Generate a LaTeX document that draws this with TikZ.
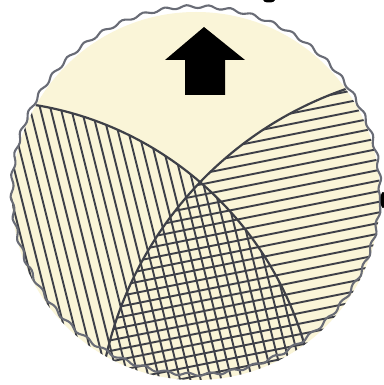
\documentclass[tikz,border=0pt]{standalone}
\usetikzlibrary{decorations.pathmorphing}
\definecolor{paper}{RGB}{250,245,216}
\definecolor{rim}{RGB}{105,108,118}
\definecolor{ink}{RGB}{62,64,72}
\tikzset{
  hatch/.style={draw=ink, line width=1.9pt},
  divide/.style={draw=ink, line width=2.2pt},
  wavyrim/.style={draw=rim, line width=2.1pt, decorate,
    decoration={snake, segment length=22pt, amplitude=1.5pt}}
}
\begin{document}
\begin{tikzpicture}[x=1pt,y=-1pt]
  \useasboundingbox[fill=white] (0,0) rectangle (383,385);
  % disc
  \fill[paper] (196,196) circle[radius=184pt];
  % left lens: steep hatch
  \begin{scope}
    \clip (196,196) circle[radius=184pt];
    \clip (-20,438) circle[radius=337.5pt];
    \foreach \k in {-30,...,30}
      \draw[hatch] ({196+\k*10.3-0.25*260},{196-260}) -- ({196+\k*10.3+0.25*260},{196+260});
  \end{scope}
  % right lens: shallow hatch
  \begin{scope}
    \clip (196,196) circle[radius=184pt];
    \clip (466,438) circle[radius=369pt];
    \foreach \k in {-30,...,30}
      \draw[hatch] ({196-260},{196+\k*10.6+0.2*260}) -- ({196+260},{196+\k*10.6-0.2*260});
  \end{scope}
  % dividing arcs
  \begin{scope}
    \clip (196,196) circle[radius=184pt];
    \draw[divide] (-20,438) circle[radius=337.5pt];
    \draw[divide] (466,438) circle[radius=369pt];
  \end{scope}
  % wavy rim
  \draw[wavyrim] (196,196) circle[radius=184pt];
  % arrow
  \fill[black] (204,27) -- (245,60) -- (225,60) -- (225,95) -- (185,95) -- (185,60) -- (165,60) -- cycle;
  % cut-off marks at the borders
  \fill[black] (269,0) ellipse[x radius=6pt, y radius=2.5pt];
  \fill[black] (383,200) ellipse[x radius=2.5pt, y radius=8pt];
\end{tikzpicture}
\end{document}
